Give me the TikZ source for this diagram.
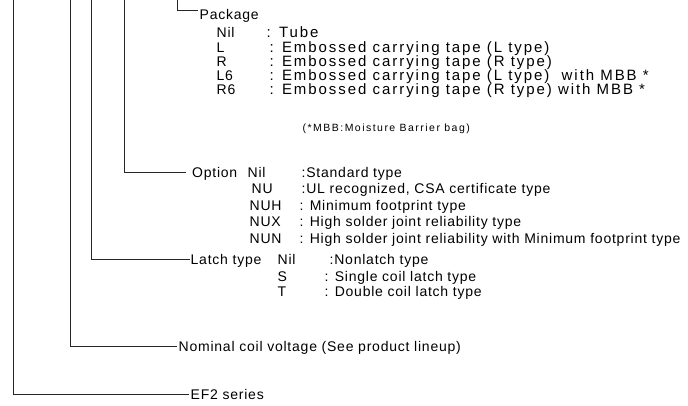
\documentclass[tikz,border=0pt]{standalone}
\usepackage{fontspec}
\setmainfont{Liberation Sans}
\newfontfamily\fa[LetterSpace=5.5]{Liberation Sans}
\newfontfamily\fb[LetterSpace=13]{Liberation Sans}
\newfontfamily\fc[LetterSpace=14]{Liberation Sans}
\begin{document}
\begin{tikzpicture}[x=1pt,y=-1pt,
  lbl/.style={anchor=west,inner xsep=1.5pt,inner ysep=0pt,text height=10pt,text depth=0pt,
    font=\fa\fontsize{14}{16}\selectfont},
  wide/.style={lbl,font=\fb\fontsize{15}{17}\selectfont},
  small/.style={lbl,text height=7.5pt,font=\fc\fontsize{10.5}{12}\selectfont},
  conn/.style={draw=black!85,line width=0.8pt}]
\useasboundingbox (0,0) rectangle (688,405);
% top ends of the tree lines
\coordinate (t1) at (13,0);
\coordinate (t2) at (70,0);
\coordinate (t3) at (91,0);
\coordinate (t4) at (124,0);
\coordinate (t5) at (177,0);
% Package
\node[lbl] (pkg) at (198,14) {Package};
\node[lbl] (p1k) at (215,32) {Nil};
\node[wide] (p1v) at (265,32) {: Tube};
\node[lbl] (p2k) at (215,47) {L};
\node[wide] (p2v) at (268,47) {: Embossed carrying tape (L type)};
\node[lbl] (p3k) at (215,61) {R};
\node[wide] (p3v) at (268,61) {: Embossed carrying tape (R type)};
\node[lbl] (p4k) at (215,75) {L6};
\node[wide] (p4v) at (268,75) {: Embossed carrying tape (L type)\ \ with MBB *};
\node[lbl] (p5k) at (215,89) {R6};
\node[wide] (p5v) at (268,89) {: Embossed carrying tape (R type) with MBB *};
\node[small] (mbb) at (301,128) {(*MBB:Moisture Barrier bag)};
% Option
\node[lbl,inner xsep=6pt] (opt) at (186,172) {Option};
\node[lbl] (o1k) at (246,172) {Nil};
\node[lbl] (o1v) at (300,172) {:Standard type};
\node[lbl] (o2k) at (250,188) {NU};
\node[lbl] (o2v) at (300,188) {:UL recognized, CSA certificate type};
\node[lbl] (o3k) at (248,205) {NUH};
\node[lbl] (o3v) at (298,205) {: Minimum footprint type};
\node[lbl] (o4k) at (248,221) {NUX};
\node[lbl] (o4v) at (298,221) {: High solder joint reliability type};
\node[lbl] (o5k) at (248,238) {NUN};
\node[lbl] (o5v) at (298,238) {: High solder joint reliability with Minimum footprint type};
% Latch type
\node[lbl,inner xsep=0.5pt] (lat) at (190,259) {Latch type};
\node[lbl] (l1k) at (276,259) {Nil};
\node[lbl] (l1v) at (328,259) {:Nonlatch type};
\node[lbl] (l2k) at (276,276) {S};
\node[lbl] (l2v) at (323,276) {: Single coil latch type};
\node[lbl] (l3k) at (276,291) {T};
\node[lbl] (l3v) at (323,291) {: Double coil latch type};
% Nominal coil voltage
\node[lbl] (nom) at (177,346) {Nominal coil voltage (See product lineup)};
% EF2 series
\node[lbl] (ef2) at (189,394) {EF2 series};
% connectors
\draw[conn] (t1) |- (ef2.west);
\draw[conn] (t2) |- (nom.west);
\draw[conn] (t3) |- (lat.west);
\draw[conn] (t4) |- (opt.west);
\draw[conn] (t5) |- ([yshift=4pt]pkg.west);
\end{tikzpicture}
\end{document}
